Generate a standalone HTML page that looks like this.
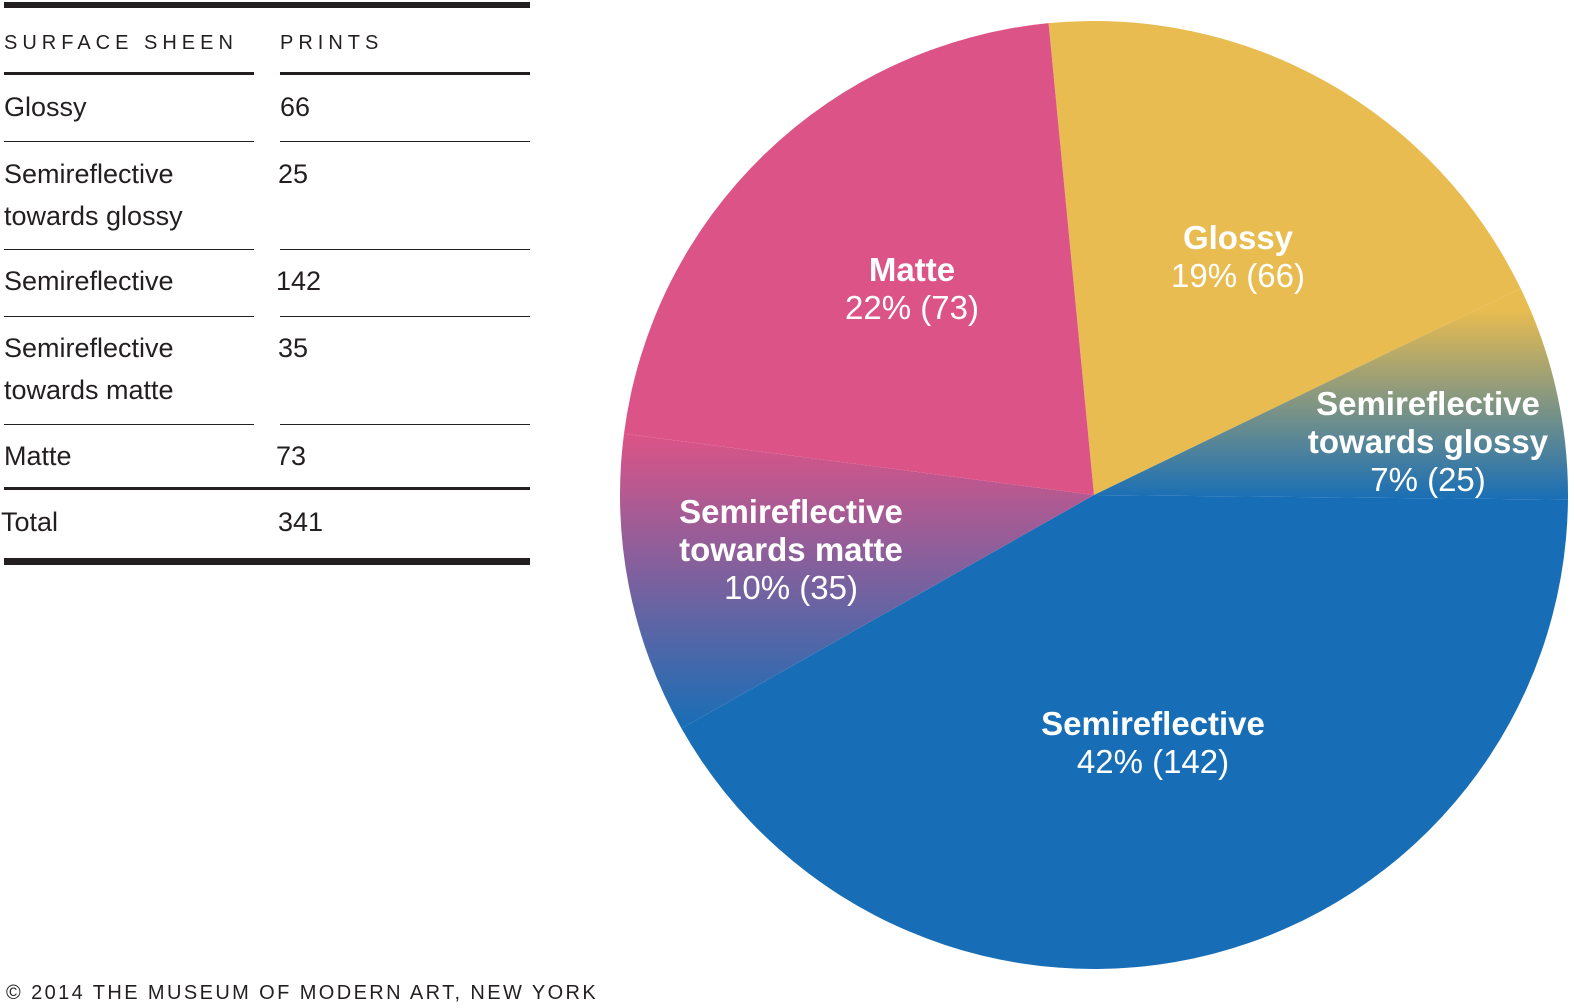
<!DOCTYPE html>
<html><head><meta charset="utf-8"><style>
body{margin:0;width:1574px;height:1008px;background:#fff;position:relative;overflow:hidden;font-family:"Liberation Sans",sans-serif;color:#231f20}
.t{position:absolute;font-size:27px;line-height:42px}
.h{position:absolute;font-size:20px;letter-spacing:5px;top:32px}
.ln{position:absolute;background:#231f20}
</style></head><body>
<div class="ln" style="left:4px;top:2px;width:526px;height:6px"></div>
<div class="h" style="left:4px">SURFACE SHEEN</div>
<div class="h" style="left:280px">PRINTS</div>
<div class="ln" style="left:4px;top:72px;width:250px;height:3px"></div>
<div class="ln" style="left:280px;top:72px;width:250px;height:3px"></div>
<div class="t" style="left:4px;top:86px">Glossy</div>
<div class="t" style="left:280px;top:86px">66</div>
<div class="ln" style="left:4px;top:141px;width:250px;height:1px"></div>
<div class="ln" style="left:280px;top:141px;width:250px;height:1px"></div>
<div class="t" style="left:4px;top:153px">Semireflective<br>towards glossy</div>
<div class="t" style="left:278px;top:153px">25</div>
<div class="ln" style="left:4px;top:249px;width:250px;height:1px"></div>
<div class="ln" style="left:280px;top:249px;width:250px;height:1px"></div>
<div class="t" style="left:4px;top:260px">Semireflective</div>
<div class="t" style="left:276px;top:260px">142</div>
<div class="ln" style="left:4px;top:316px;width:250px;height:1px"></div>
<div class="ln" style="left:280px;top:316px;width:250px;height:1px"></div>
<div class="t" style="left:4px;top:327px">Semireflective<br>towards matte</div>
<div class="t" style="left:278px;top:327px">35</div>
<div class="ln" style="left:4px;top:424px;width:250px;height:1px"></div>
<div class="ln" style="left:280px;top:424px;width:250px;height:1px"></div>
<div class="t" style="left:4px;top:435px">Matte</div>
<div class="t" style="left:276px;top:435px">73</div>
<div class="ln" style="left:4px;top:487px;width:526px;height:3px"></div>
<div class="t" style="left:1px;top:501px">Total</div>
<div class="t" style="left:278px;top:501px">341</div>
<div class="ln" style="left:4px;top:558px;width:526px;height:7px"></div>
<div style="position:absolute;left:6px;top:982px;font-size:20px;letter-spacing:2.4px">© 2014 THE MUSEUM OF MODERN ART, NEW YORK</div>
<svg id="pie" width="1574" height="1008" style="position:absolute;left:0;top:0">
<defs>
<linearGradient id="gG" x1="0" y1="0" x2="0" y2="1"><stop offset="0.1" stop-color="#E8BC50"/><stop offset="1" stop-color="#186EB6"/></linearGradient>
<linearGradient id="gM" x1="0" y1="0" x2="0" y2="1"><stop offset="0" stop-color="#DC5487"/><stop offset="1" stop-color="#186EB6"/></linearGradient>
</defs>
</svg>
<script>
const categories=["Glossy","Semireflective towards glossy","Semireflective","Semireflective towards matte","Matte"];
const values=[66,25,142,35,73];
const pctLabels=["19% (66)","7% (25)","42% (142)","10% (35)","22% (73)"];
const fills=["#E8BC50","url(#gG)","#186EB6","url(#gM)","#DC5487"];
const labelPos=[[1238,237],[1428,403],[1153,723],[791,511],[912,269]];
const titleLines=[["Glossy"],["Semireflective","towards glossy"],["Semireflective"],["Semireflective","towards matte"],["Matte"]];
const cx=1094,cy=495,r=474,start=-5.5;
const svg=document.getElementById('pie');const NS='http://www.w3.org/2000/svg';
const tot=values.reduce((a,b)=>a+b,0);
function pt(a){const t=a*Math.PI/180;return [cx+r*Math.sin(t),cy-r*Math.cos(t)];}
let a=start;
values.forEach((v,i)=>{
  const sw=v/tot*360,a2=a+sw;const p1=pt(a),p2=pt(a2);
  const p=document.createElementNS(NS,'path');
  p.setAttribute('d',`M${cx},${cy}L${p1[0]},${p1[1]}A${r},${r} 0 ${sw>180?1:0} 1 ${p2[0]},${p2[1]}Z`);
  p.setAttribute('fill',fills[i]);
  
  
  svg.appendChild(p);a=a2;
});
values.forEach((v,i)=>{
  const [x,y]=labelPos[i];
  const t=document.createElementNS(NS,'text');
  t.setAttribute('text-anchor','middle');t.setAttribute('fill','#fff');
  t.setAttribute('font-family','Liberation Sans, sans-serif');
  
  
  titleLines[i].forEach((ln,j)=>{const s=document.createElementNS(NS,'tspan');s.setAttribute('x',x);s.setAttribute('y',y+12+j*38);s.setAttribute('font-weight','bold');s.setAttribute('font-size','33');s.textContent=ln;t.appendChild(s);});
  const s=document.createElementNS(NS,'tspan');s.setAttribute('x',x);s.setAttribute('y',y+12+titleLines[i].length*38);s.setAttribute('font-size','33');s.textContent=pctLabels[i];t.appendChild(s);
  svg.appendChild(t);
});
</script>
</body></html>
